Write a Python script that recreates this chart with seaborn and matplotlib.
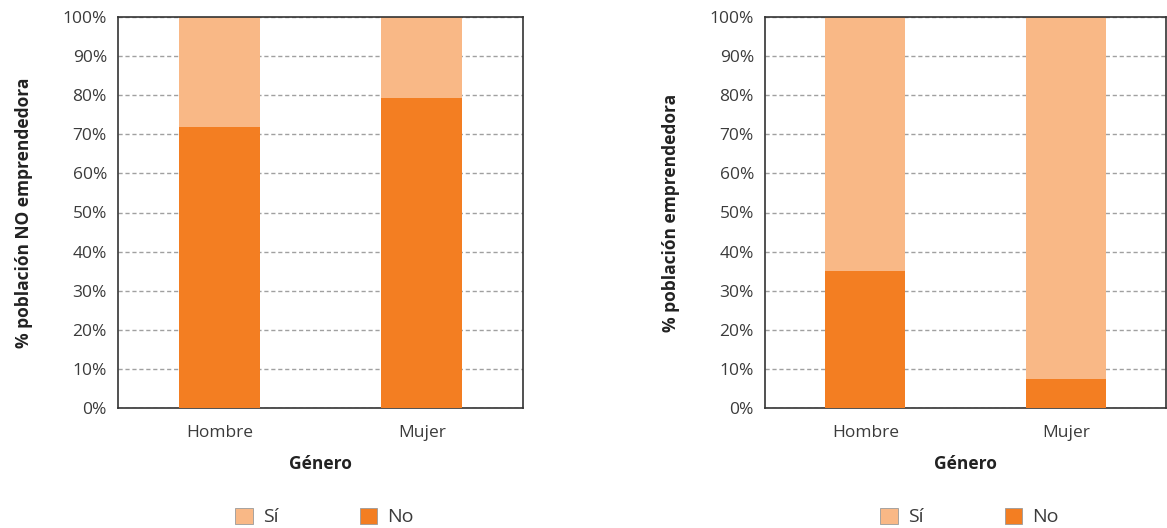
import pandas as pd
import matplotlib
import matplotlib.pyplot as plt
from matplotlib.patches import Patch
import numpy as np
import seaborn as sns

sns.set_style("white")
plt.rcParams["font.family"] = ["Open Sans", "DejaVu Sans"]

light = "#F9B886"
dark = "#F37E22"
textcol = "#3b3b3b"

generos = ["Hombre", "Mujer"]
no_emp_no = [71.9, 79.3]
no_emp_si = [28.1, 20.7]
emp_no = [35.0, 7.3]
emp_si = [65.0, 92.7]
ylabels = ["% población NO emprendedora", "% población emprendedora"]

fig = plt.figure(figsize=(11.67, 5.28), dpi=100)
ax1 = fig.add_axes([118 / 1167, 120 / 528, 405 / 1167, 391 / 528])
ax2 = fig.add_axes([765 / 1167, 120 / 528, 401 / 1167, 391 / 528])

for ax, no, si, ylab in [(ax1, no_emp_no, no_emp_si, ylabels[0]), (ax2, emp_no, emp_si, ylabels[1])]:
    df = pd.DataFrame({"genero": generos, "no": no, "si": si})
    df["total"] = df["no"] + df["si"]
    sns.barplot(data=df, x="genero", y="total", color=light, width=0.4, saturation=1,
                linewidth=0, ax=ax, zorder=2)
    sns.barplot(data=df, x="genero", y="no", color=dark, width=0.4, saturation=1,
                linewidth=0, ax=ax, zorder=3)
    ax.set_xlim(-0.5, 1.5)
    ax.set_ylim(0, 100)
    ax.set_yticks(np.arange(0, 101, 10))
    ax.set_yticklabels([f"{v}%" for v in range(0, 101, 10)])
    ax.set_xticks([-0.5, 0.5, 1.5], minor=True)
    ax.tick_params(axis="x", which="major", length=0, pad=12, labelsize=12.5, labelcolor=textcol)
    ax.tick_params(axis="x", which="minor", length=7, width=1.2, color="#333333", direction="out")
    ax.tick_params(axis="y", length=6, width=1.2, color="#333333", direction="out", pad=2,
                   labelsize=12.5, labelcolor=textcol)
    ax.yaxis.grid(True, linestyle=(0, (3, 2)), color="#a0a0a0", linewidth=1, zorder=0)
    ax.set_axisbelow(True)
    for s in ax.spines.values():
        s.set_color("#333333")
        s.set_linewidth(1.2)
    ax.set_xlabel("Género", fontsize=12.5, fontweight="bold", color="#222222", labelpad=10)
    ax.set_ylabel(ylab, fontsize=12.5, fontweight="bold", color="#222222", labelpad=21)
    handles = [Patch(facecolor=light, edgecolor="#9a9a9a", linewidth=0.6, label="Sí"),
               Patch(facecolor=dark, edgecolor="#9a9a9a", linewidth=0.6, label="No")]
    ax.legend(handles=handles, loc="upper center", bbox_to_anchor=(0.51, -0.21), ncol=2,
              frameon=False, handlelength=0.9, handleheight=0.9, handletextpad=0.5,
              columnspacing=4.2, prop={"size": 14}, labelcolor=textcol)

fig.savefig("out.png", dpi=100)
